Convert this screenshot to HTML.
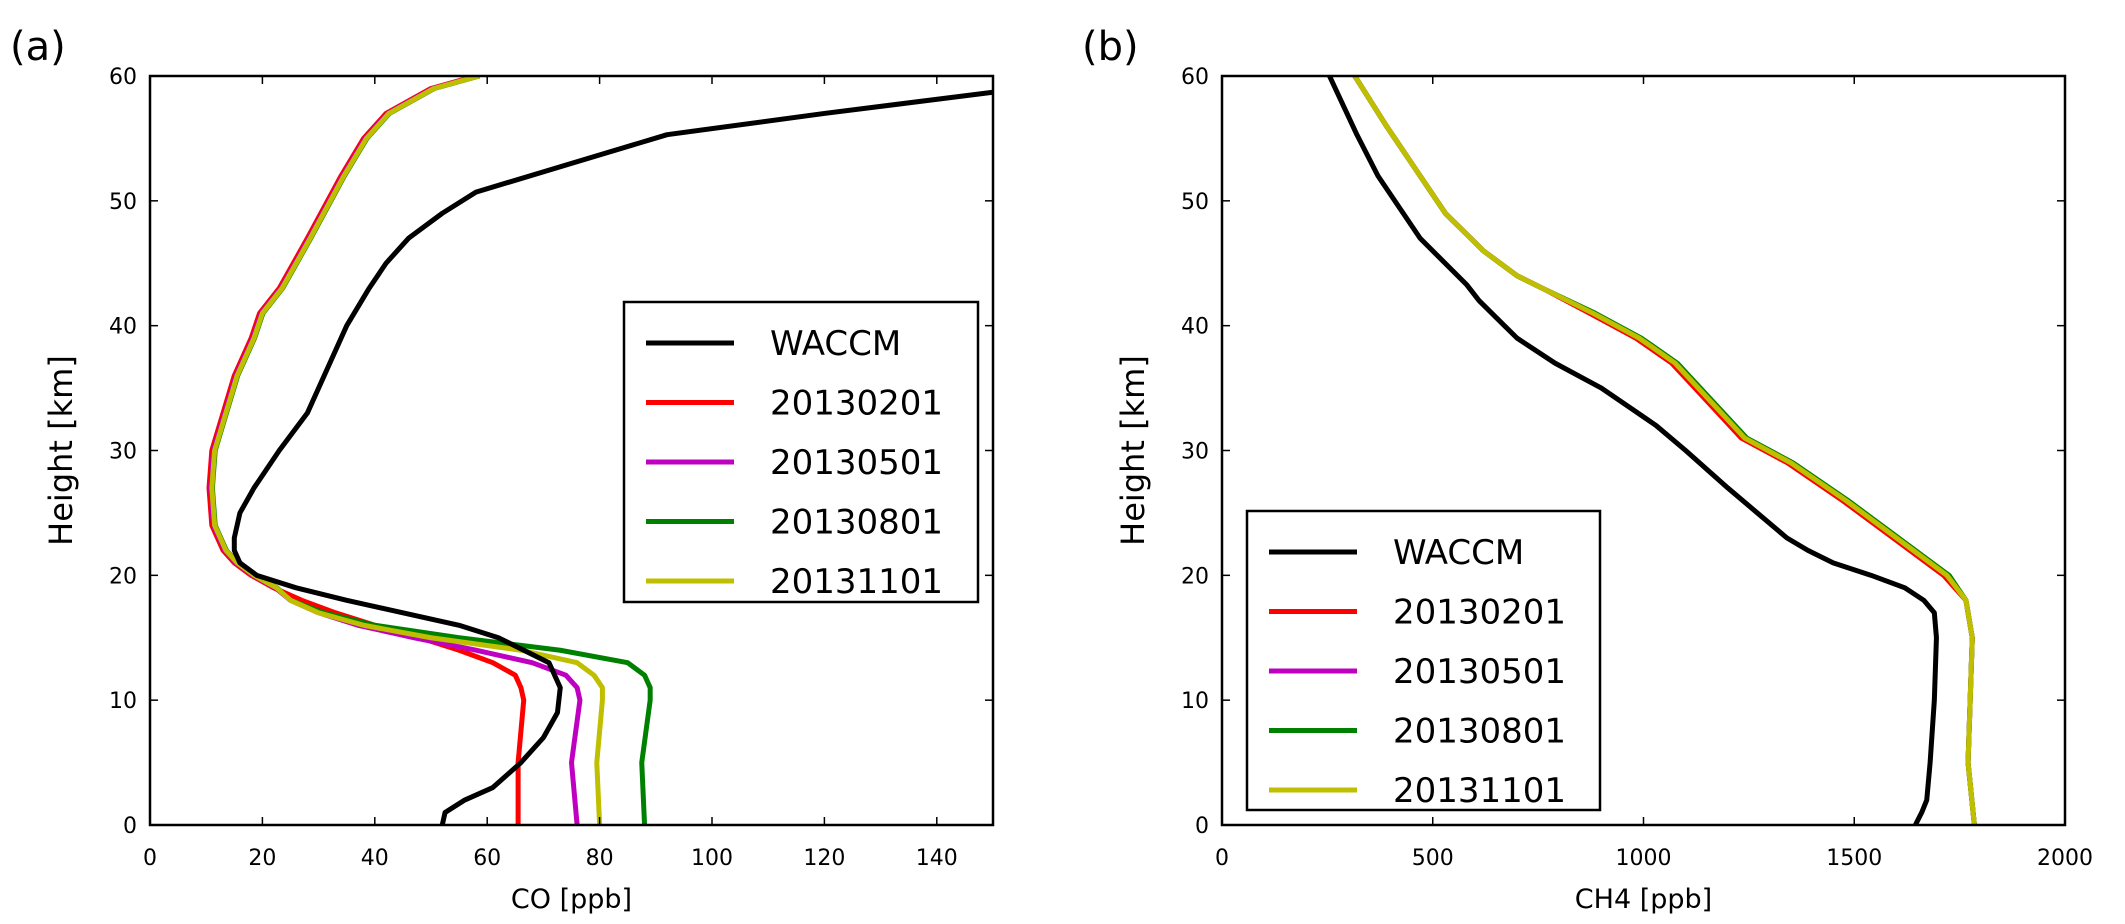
<!DOCTYPE html>
<html><head><meta charset="utf-8"><style>
body{margin:0;background:#fff}
svg text{font-family:"DejaVu Sans","Liberation Sans",sans-serif;fill:#000}
</style></head><body>
<svg id="chart" width="2125" height="919" xmlns="http://www.w3.org/2000/svg"></svg>
<script>
const heightsWaccmCO=[0,1,2,3,5,7,9,11,13,15,16,17,18,19,20,21,22,23,25,27,30,33,37,40,43,45,47,49,50.7,53,55.3,57,58.7];
const waccmCO=[52,52.5,56,61,66,70,72.5,73,71,62,55,45,35,26,19,16,15,15,16,18.5,23,28,32,35,39,42,46,52,58,75,92,120,150];
const heightsObs=[0,5,10,11,12,13,14,15,16,17,18,19,20,21,22,24,27,30,33,36,39,41,43,47,52,55,57,59,60];
const upperObs=[22,18,15,13,11,10.5,11,13,15,18,19.5,23,28,34,38,42,50,58];
const co20130201=[65.5,65.5,66.5,66,65,61,55,48,40,33,27].concat(upperObs);
const co20130501=[76,75,76.5,76,74,68,58,47,37,30,25].concat(upperObs.map(v=>v+0.3));
const co20130801=[88,87.5,89,89,88,85,73,55,40,31,25].concat(upperObs.map(v=>v+0.6));
const co20131101=[80,79.5,80.5,80.5,79,76,66,50,38,30,25].concat(upperObs.map(v=>v+0.5));
const heightsWaccmCH4=[0,1,2,5,10,15,17,18,19,20,21,22,23,25,27,30,32,35,37,39,40,42,43.3,47,52,55.3,60];
const waccmCH4=[1645,1660,1672,1680,1690,1695,1690,1665,1620,1540,1450,1390,1340,1270,1200,1100,1030,900,790,700,670,610,580,470,370,320,255];
const heightsObsCH4=[0,5,10,15,18,20,23,26,29,31,33,35,37,39,41,43,44,46,49,53,56,60];
const ch4Base=[1785,1770,1775,1780,1765,1720,1600,1480,1350,1240,1185,1130,1075,990,880,760,700,620,530,450,390,315];
const ch4_20130201=ch4Base.map((v,i)=>i>4&&i<15?v-8:v);
const ch4_20130501=ch4Base.slice();
const ch4_20130801=ch4Base.map((v,i)=>i>4&&i<15?v+5:v);
const ch4_20131101=ch4Base.slice();
const legendLabels=["WACCM","20130201","20130501","20130801","20131101"];
const colors=["#000000","#ff0000","#c000c0","#008000","#bfbf00"];
const xTicksA=[0,20,40,60,80,100,120,140];
const xTicksB=[0,500,1000,1500,2000];
const yTicks=[0,10,20,30,40,50,60];

const NS="http://www.w3.org/2000/svg";
const svg=document.getElementById('chart');
function el(tag,attrs,parent){const e=document.createElementNS(NS,tag);for(const k in attrs)e.setAttribute(k,attrs[k]);(parent||svg).appendChild(e);return e;}
const T=825,TOP=76;
function panel(L,R,xmax,xTicks,xlabel,tag,series,legend,name){
  const g=el('g',{});
  
  
  const sx=v=>L+(v/xmax)*(R-L), sy=h=>T-(h/60)*(T-TOP);
  const clip=el('clipPath',{id:'c'+tag},g);el('rect',{x:L,y:TOP,width:R-L,height:T-TOP},clip);
  series.forEach((s,i)=>{
    const p=el('polyline',{points:s.h.map((h,j)=>sx(s.v[j])+','+sy(h)).join(' '),fill:'none',stroke:colors[s.c],'stroke-width':5,'stroke-linejoin':'round','clip-path':'url(#c'+tag+')'},g);
    
    
  });
  el('rect',{x:L,y:TOP,width:R-L,height:T-TOP,fill:'none',stroke:'#000','stroke-width':2.5},g);
  xTicks.forEach(t=>{const x=sx(t);
    el('line',{x1:x,x2:x,y1:T,y2:T-8,stroke:'#000','stroke-width':1.5},g);
    el('line',{x1:x,x2:x,y1:TOP,y2:TOP+8,stroke:'#000','stroke-width':1.5},g);
    const tx=el('text',{x:x,y:865,'text-anchor':'middle','font-size':22},g);tx.textContent=t;
    });
  yTicks.forEach(t=>{const y=sy(t);
    el('line',{x1:L,x2:L+8,y1:y,y2:y,stroke:'#000','stroke-width':1.5},g);
    el('line',{x1:R,x2:R-8,y1:y,y2:y,stroke:'#000','stroke-width':1.5},g);
    const tx=el('text',{x:L-13,y:y+8,'text-anchor':'end','font-size':22},g);tx.textContent=t;
    });
  const xl=el('text',{x:(L+R)/2,y:908,'text-anchor':'middle','font-size':27},g);xl.textContent=xlabel;
  
  const yl=el('text',{x:0,y:0,'text-anchor':'middle','font-size':32,transform:`translate(${L-78},${(TOP+T)/2}) rotate(-90)`},g);yl.textContent='Height [km]';
  
  const pl=el('text',{x:L-140,y:60,'font-size':40},g);pl.textContent='('+tag+')';
  
  const lg=el('g',{},g);
  el('rect',{x:legend.x,y:legend.y,width:legend.w,height:legend.h,fill:'#fff',stroke:'#000','stroke-width':2.5},lg);
  legendLabels.forEach((lab,i)=>{const y=legend.y+41+i*59.5;
    const e=el('g',{},lg);
    el('line',{x1:legend.x+22,x2:legend.x+110,y1:y,y2:y,stroke:colors[i],'stroke-width':5},e);
    const t=el('text',{x:legend.x+146,y:y+12,'font-size':34},e);t.textContent=lab;});
}
panel(150,993,150,xTicksA,'CO [ppb]','a',[
 {h:heightsObs,v:co20130201,c:1},{h:heightsObs,v:co20130501,c:2},{h:heightsObs,v:co20130801,c:3},{h:heightsObs,v:co20131101,c:4},{h:heightsWaccmCO,v:waccmCO,c:0}],
 {x:624,y:302,w:354,h:300},'panel-co');
panel(1222,2065,2000,xTicksB,'CH4 [ppb]','b',[
 {h:heightsObsCH4,v:ch4_20130201,c:1},{h:heightsObsCH4,v:ch4_20130501,c:2},{h:heightsObsCH4,v:ch4_20130801,c:3},{h:heightsObsCH4,v:ch4_20131101,c:4},{h:heightsWaccmCH4,v:waccmCH4,c:0}],
 {x:1247,y:511,w:353,h:299},'panel-ch4');
</script>
</body></html>
